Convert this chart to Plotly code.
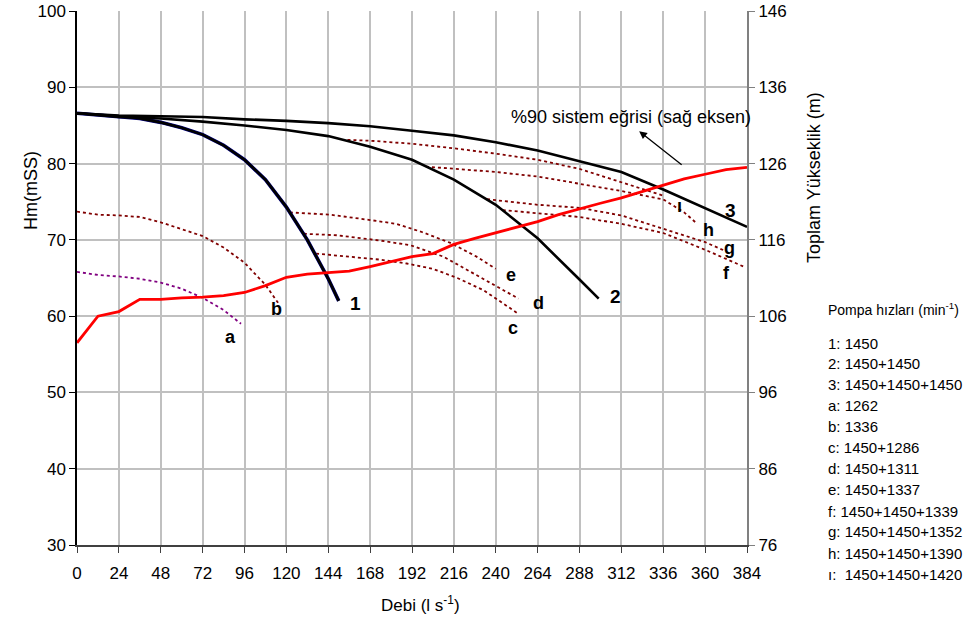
import plotly.graph_objects as go

# ---- Pump characteristic curves (left axis, Hm in mSS) ----
q1 = [0, 12, 24, 36, 48, 60, 72, 84, 96, 108, 120, 132, 144, 150]
h1 = [86.6, 86.4, 86.2, 85.9, 85.4, 84.7, 83.8, 82.4, 80.5, 77.9, 74.3, 70.0, 64.9, 62.0]

q2 = [0, 24, 48, 72, 96, 120, 144, 168, 192, 216, 240, 264, 288, 299]
h2 = [86.6, 86.1, 85.9, 85.5, 85.0, 84.4, 83.6, 82.2, 80.5, 77.9, 74.6, 70.2, 64.8, 62.3]

q3 = [0, 24, 48, 72, 96, 120, 144, 168, 192, 216, 240, 264, 288, 312, 336, 360, 384]
h3 = [86.6, 86.3, 86.2, 86.1, 85.8, 85.6, 85.3, 84.9, 84.3, 83.7, 82.8, 81.7, 80.3, 78.9, 76.6, 74.2, 71.7]

# reduced-speed curves
qa = [0, 12, 24, 36, 48, 60, 72, 84, 94]
ha = [65.8, 65.4, 65.2, 64.9, 64.4, 63.6, 62.4, 60.8, 59.0]

qb = [0, 12, 24, 36, 48, 60, 72, 84, 96, 108, 116]
hb = [73.7, 73.3, 73.2, 73.0, 72.3, 71.4, 70.5, 69.0, 67.0, 64.1, 61.5]

qc = [137, 156, 174, 189, 204, 218, 233, 244, 253]
hc = [68.2, 67.8, 67.4, 66.9, 66.2, 65.0, 63.4, 61.7, 60.3]

qd = [130, 149, 174, 191, 210, 227, 244, 253]
hd = [70.8, 70.6, 69.9, 69.3, 67.8, 65.6, 63.4, 62.3]

qe = [122, 145, 168, 183, 198, 214, 229, 240]
he = [73.6, 73.3, 72.6, 72.1, 71.0, 69.6, 67.8, 66.2]

qf = [244, 264, 288, 312, 336, 360, 382]
hf = [73.9, 73.5, 73.0, 72.1, 70.9, 68.7, 66.5]

qg = [235, 240, 264, 288, 312, 336, 360, 372]
hg = [75.35, 75.2, 74.6, 74.2, 73.2, 71.4, 69.7, 68.5]

qh = [200, 216, 240, 264, 288, 312, 336, 348, 355]
hh = [79.6, 79.3, 78.9, 78.3, 77.4, 76.4, 75.3, 73.6, 72.2]

qi = [155, 168, 192, 216, 240, 264, 288, 312, 336]
hi = [83.1, 83.0, 82.6, 82.0, 81.3, 80.5, 79.3, 77.5, 75.8]

# ---- 90 % system curve (right axis, total head in m) ----
qs = [0, 12, 24, 36, 48, 60, 72, 84, 96, 108, 120, 132, 144, 156, 168, 180, 192,
      204, 216, 228, 240, 252, 264, 276, 288, 300, 312, 324, 336, 348, 360, 372, 384]
hs = [102.5, 106.0, 106.6, 108.2, 108.2, 108.4, 108.5, 108.7, 109.1, 110.0, 111.1,
      111.5, 111.7, 111.9, 112.5, 113.1, 113.8, 114.2, 115.4, 116.2, 116.9, 117.6,
      118.4, 119.3, 120.1, 120.8, 121.5, 122.3, 123.2, 124.0, 124.6, 125.2, 125.5]

x_ticks = list(range(0, 385, 24))
left_ticks = list(range(30, 101, 10))
right_ticks = list(range(76, 147, 10))

legend_title = "Pompa hızları (min<sup>-1</sup>)"
legend_lines = ["1: 1450", "2: 1450+1450", "3: 1450+1450+1450", "a: 1262", "b: 1336",
                "c: 1450+1286", "d: 1450+1311", "e: 1450+1337", "f: 1450+1450+1339",
                "g: 1450+1450+1352", "h: 1450+1450+1390", "ı:  1450+1450+1420"]

curve_labels = [("1", 159.5, 61.6, 19), ("2", 308.5, 62.6, 19), ("3", 374.5, 73.9, 19),
                ("a", 87.7, 57.3, 18), ("b", 114.4, 60.9, 18), ("c", 250.0, 58.4, 18),
                ("d", 264.4, 61.7, 18), ("e", 249.0, 65.4, 18), ("f", 372.2, 65.6, 18),
                ("g", 373.7, 68.9, 18), ("h", 361.7, 71.3, 18), ("ı", 345.2, 74.4, 18)]

FONT = "Liberation Sans, Arial, sans-serif"
DOT_RED = "#800000"

fig = go.Figure()

def add_line(x, y, color, width, dash="solid", yaxis="y"):
    fig.add_trace(go.Scatter(x=x, y=y, mode="lines", yaxis=yaxis,
                             line=dict(color=color, width=width, dash=dash),
                             showlegend=False, hoverinfo="skip"))

# dotted reduced-speed curves
add_line(qa, ha, "#800080", 1.8, "dot")
for qq, hh_ in [(qb, hb), (qc, hc), (qd, hd), (qe, he), (qf, hf), (qg, hg), (qh, hh), (qi, hi)]:
    add_line(qq, hh_, DOT_RED, 1.8, "dot")

# full-speed pump curves
add_line(q1, h1, "#000080", 3.6)
add_line(q1, h1, "black", 2.6)
add_line(q2, h2, "black", 2.6)
add_line(q3, h3, "black", 2.6)

# system curve on the secondary axis
add_line(qs, hs, "#FF0000", 2.8, yaxis="y2")

annotations = []
for txt, x, y, sz in curve_labels:
    annotations.append(dict(x=x, y=y, xref="x", yref="y", text=f"<b>{txt}</b>",
                            showarrow=False, font=dict(size=sz, color="black", family=FONT)))

# system curve note with arrow
annotations.append(dict(x=317.5, y=86.1, xref="x", yref="y",
                        text="%90 sistem eğrisi (sağ eksen)", showarrow=False,
                        font=dict(size=18, color="black", family=FONT)))
annotations.append(dict(x=322.2, y=84.25, ax=347.4, ay=79.7, xref="x", yref="y",
                        axref="x", ayref="y", text="", showarrow=True,
                        arrowhead=2, arrowsize=1.2, arrowwidth=1.3, arrowcolor="black"))

# axis titles (pixel positions)
pix = []
pix.append(dict(x=19, y=190, text="Hm(mSS)", textangle=-90, font=dict(size=18, family=FONT)))
pix.append(dict(x=826, y=178, text="Toplam Yükseklik (m)", textangle=-90,
                font=dict(size=18, family=FONT)))
pix.append(dict(x=420, y=604, text="Debi (l s<sup>-1</sup>)", font=dict(size=17, family=FONT)))

# speed list
pix.append(dict(x=826, y=309, text=legend_title, xanchor="left", font=dict(size=14, family=FONT)))
row_y = [343, 363.5, 384, 405, 426, 447.5, 468.5, 489.5, 511, 531.5, 553, 574]
for txt, yy in zip(legend_lines, row_y):
    pix.append(dict(x=826, y=yy, text=txt, xanchor="left", font=dict(size=15, family=FONT)))

# convert pixel positions to paper coordinates
W, H = 967, 618
ML, MR, MT, MB = 77, 220, 11, 73
pw, ph = W - ML - MR, H - MT - MB
for a in pix:
    a["xref"], a["yref"] = "paper", "paper"
    a["x"] = (a["x"] - ML) / pw
    a["y"] = 1 - (a["y"] - MT) / ph
    a["showarrow"] = False
    a.setdefault("yanchor", "middle")
    annotations.append(a)

fig.update_layout(
    width=W, height=H,
    margin=dict(l=ML, r=MR, t=MT, b=MB, autoexpand=False),
    paper_bgcolor="white", plot_bgcolor="white",
    font=dict(family=FONT, size=17, color="black"),
    annotations=annotations,
    xaxis=dict(range=[0, 384], tickvals=x_ticks, ticks="outside", ticklen=6,
               tickcolor="#404040", showgrid=True, gridcolor="#C0C0C0", gridwidth=1.5,
               showline=True, linecolor="#404040", linewidth=2, zeroline=False,
               automargin=False, ticklabelstandoff=6, tickfont=dict(size=17)),
    yaxis=dict(range=[30, 100], tickvals=left_ticks, ticks="outside", ticklen=6,
               tickcolor="black", showgrid=True, gridcolor="#C0C0C0", gridwidth=1.5,
               showline=True, linecolor="black", linewidth=1.5, zeroline=False,
               automargin=False, tickfont=dict(size=17)),
    yaxis2=dict(range=[76, 146], tickvals=right_ticks, overlaying="y", side="right",
                ticks="outside", ticklen=6, tickcolor="#808080", showgrid=False,
                showline=True, linecolor="#808080", linewidth=2, zeroline=False,
                automargin=False, tickfont=dict(size=17)),
)

fig.write_html("out.html")
